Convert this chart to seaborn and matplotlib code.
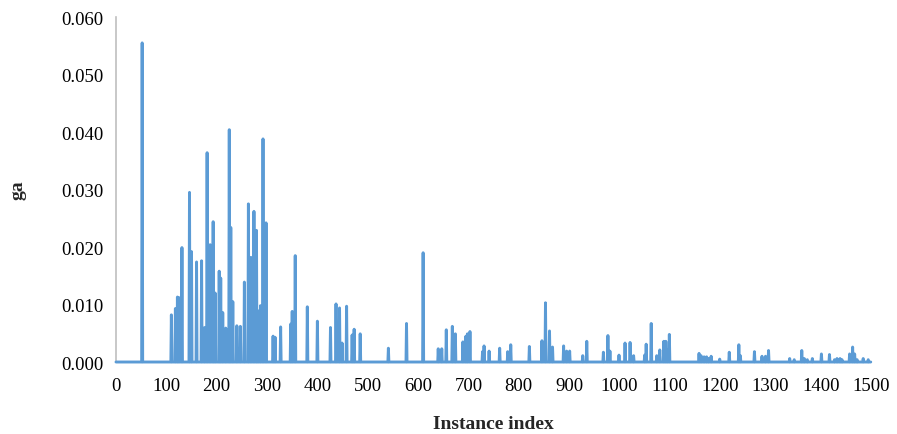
import numpy as np
import pandas as pd
import matplotlib
matplotlib.use("Agg")
import matplotlib.pyplot as plt
import seaborn as sns

# Number of instances (baseline value is 0 everywhere except the spikes below)
n_instances = 1500

# Spike positions (instance index) and ga values
spike_idx = [52, 110, 118, 122, 125, 131, 146, 150, 160, 170, 176, 181, 187, 193, 197,
             205, 208, 212, 218, 225, 228, 232, 240, 247, 255, 263, 268, 274, 279, 282,
             287, 292, 298, 312, 316, 327, 347, 350, 356, 380, 400, 426, 437, 444, 449,
             458, 469, 473, 485, 541, 577, 610, 640, 647, 656, 668, 674, 689, 695, 698,
             703, 728, 731, 741, 762, 778, 784, 821, 846, 853, 861, 867, 889, 895, 901,
             927, 935, 968, 977, 981, 999, 1011, 1021, 1028, 1050, 1053, 1063, 1074, 1080,
             1088, 1092, 1095, 1099, 1158, 1162, 1168, 1173, 1177, 1182, 1199, 1218, 1237,
             1240, 1268, 1283, 1290, 1296, 1338, 1347, 1362, 1367, 1373, 1383, 1401, 1417,
             1427, 1432, 1438, 1442, 1457, 1463, 1467, 1472, 1484, 1494]
spike_val = [0.0555, 0.0082, 0.0093, 0.0113, 0.0112, 0.0199, 0.0295, 0.0192, 0.0174, 0.0176,
             0.0060, 0.0364, 0.0204, 0.0244, 0.0120, 0.0158, 0.0146, 0.0086, 0.0059, 0.0404,
             0.0234, 0.0105, 0.0063, 0.0062, 0.0139, 0.0275, 0.0182, 0.0262, 0.0229, 0.0089,
             0.0098, 0.0388, 0.0242, 0.0045, 0.0043, 0.0061, 0.0066, 0.0088, 0.0185, 0.0096,
             0.0071, 0.0060, 0.0101, 0.0094, 0.0033, 0.0097, 0.0047, 0.0057, 0.0049, 0.0024,
             0.0067, 0.0190, 0.0023, 0.0023, 0.0056, 0.0062, 0.0049, 0.0035, 0.0045, 0.0049,
             0.0053, 0.0018, 0.0028, 0.0019, 0.0024, 0.0018, 0.0030, 0.0027, 0.0037, 0.0103,
             0.0054, 0.0026, 0.0028, 0.0019, 0.0019, 0.0011, 0.0036, 0.0017, 0.0046, 0.0019,
             0.0012, 0.0033, 0.0034, 0.0011, 0.0012, 0.0031, 0.0067, 0.0011, 0.0021, 0.0036,
             0.0036, 0.0021, 0.0048, 0.0015, 0.0011, 0.0009, 0.0009, 0.0006, 0.0010, 0.0005,
             0.0017, 0.0030, 0.0011, 0.0018, 0.0010, 0.0010, 0.0020, 0.0006, 0.0004, 0.0020,
             0.0006, 0.0004, 0.0006, 0.0014, 0.0013, 0.0004, 0.0006, 0.0006, 0.0004, 0.0014,
             0.0026, 0.0014, 0.0004, 0.0006, 0.0004]

x_ticks = list(range(0, 1501, 100))
y_ticks = [0.000, 0.010, 0.020, 0.030, 0.040, 0.050, 0.060]

ga = np.zeros(n_instances)
ga[spike_idx] = spike_val
df = pd.DataFrame({"Instance index": np.arange(n_instances), "ga": ga})

sns.set_theme(style="white")
plt.rcParams["font.family"] = ["Liberation Serif", "DejaVu Serif"]

fig = plt.figure(figsize=(8.97, 4.35), dpi=100)
ax = fig.add_axes([0.1293, 0.1655, 0.842, 0.7931])

for s in ["top", "right"]:
    ax.spines[s].set_visible(False)
for s in ["left", "bottom"]:
    ax.spines[s].set_color("#BFBFBF")
    ax.spines[s].set_linewidth(1.2)

sns.lineplot(data=df, x="Instance index", y="ga", ax=ax, color="#5B9BD5",
             linewidth=2.1, estimator=None, clip_on=False, zorder=3)

ax.set_xlim(0, 1500)
ax.set_ylim(0, 0.06)
ax.set_xticks(x_ticks)
ax.set_yticks(y_ticks)
ax.set_yticklabels([f"{v:.3f}" for v in y_ticks])
ax.tick_params(axis="both", labelsize=13.5, colors="#000000")
ax.tick_params(axis="x", length=4, width=0.8, color="#BFBFBF", direction="out", pad=7)
ax.tick_params(axis="y", length=0, pad=9)

ax.set_xlabel("Instance index", fontsize=14, fontweight="bold", labelpad=15)
ax.set_ylabel("ga", fontsize=14, fontweight="bold", labelpad=25)

fig.savefig("out.png", dpi=100)
